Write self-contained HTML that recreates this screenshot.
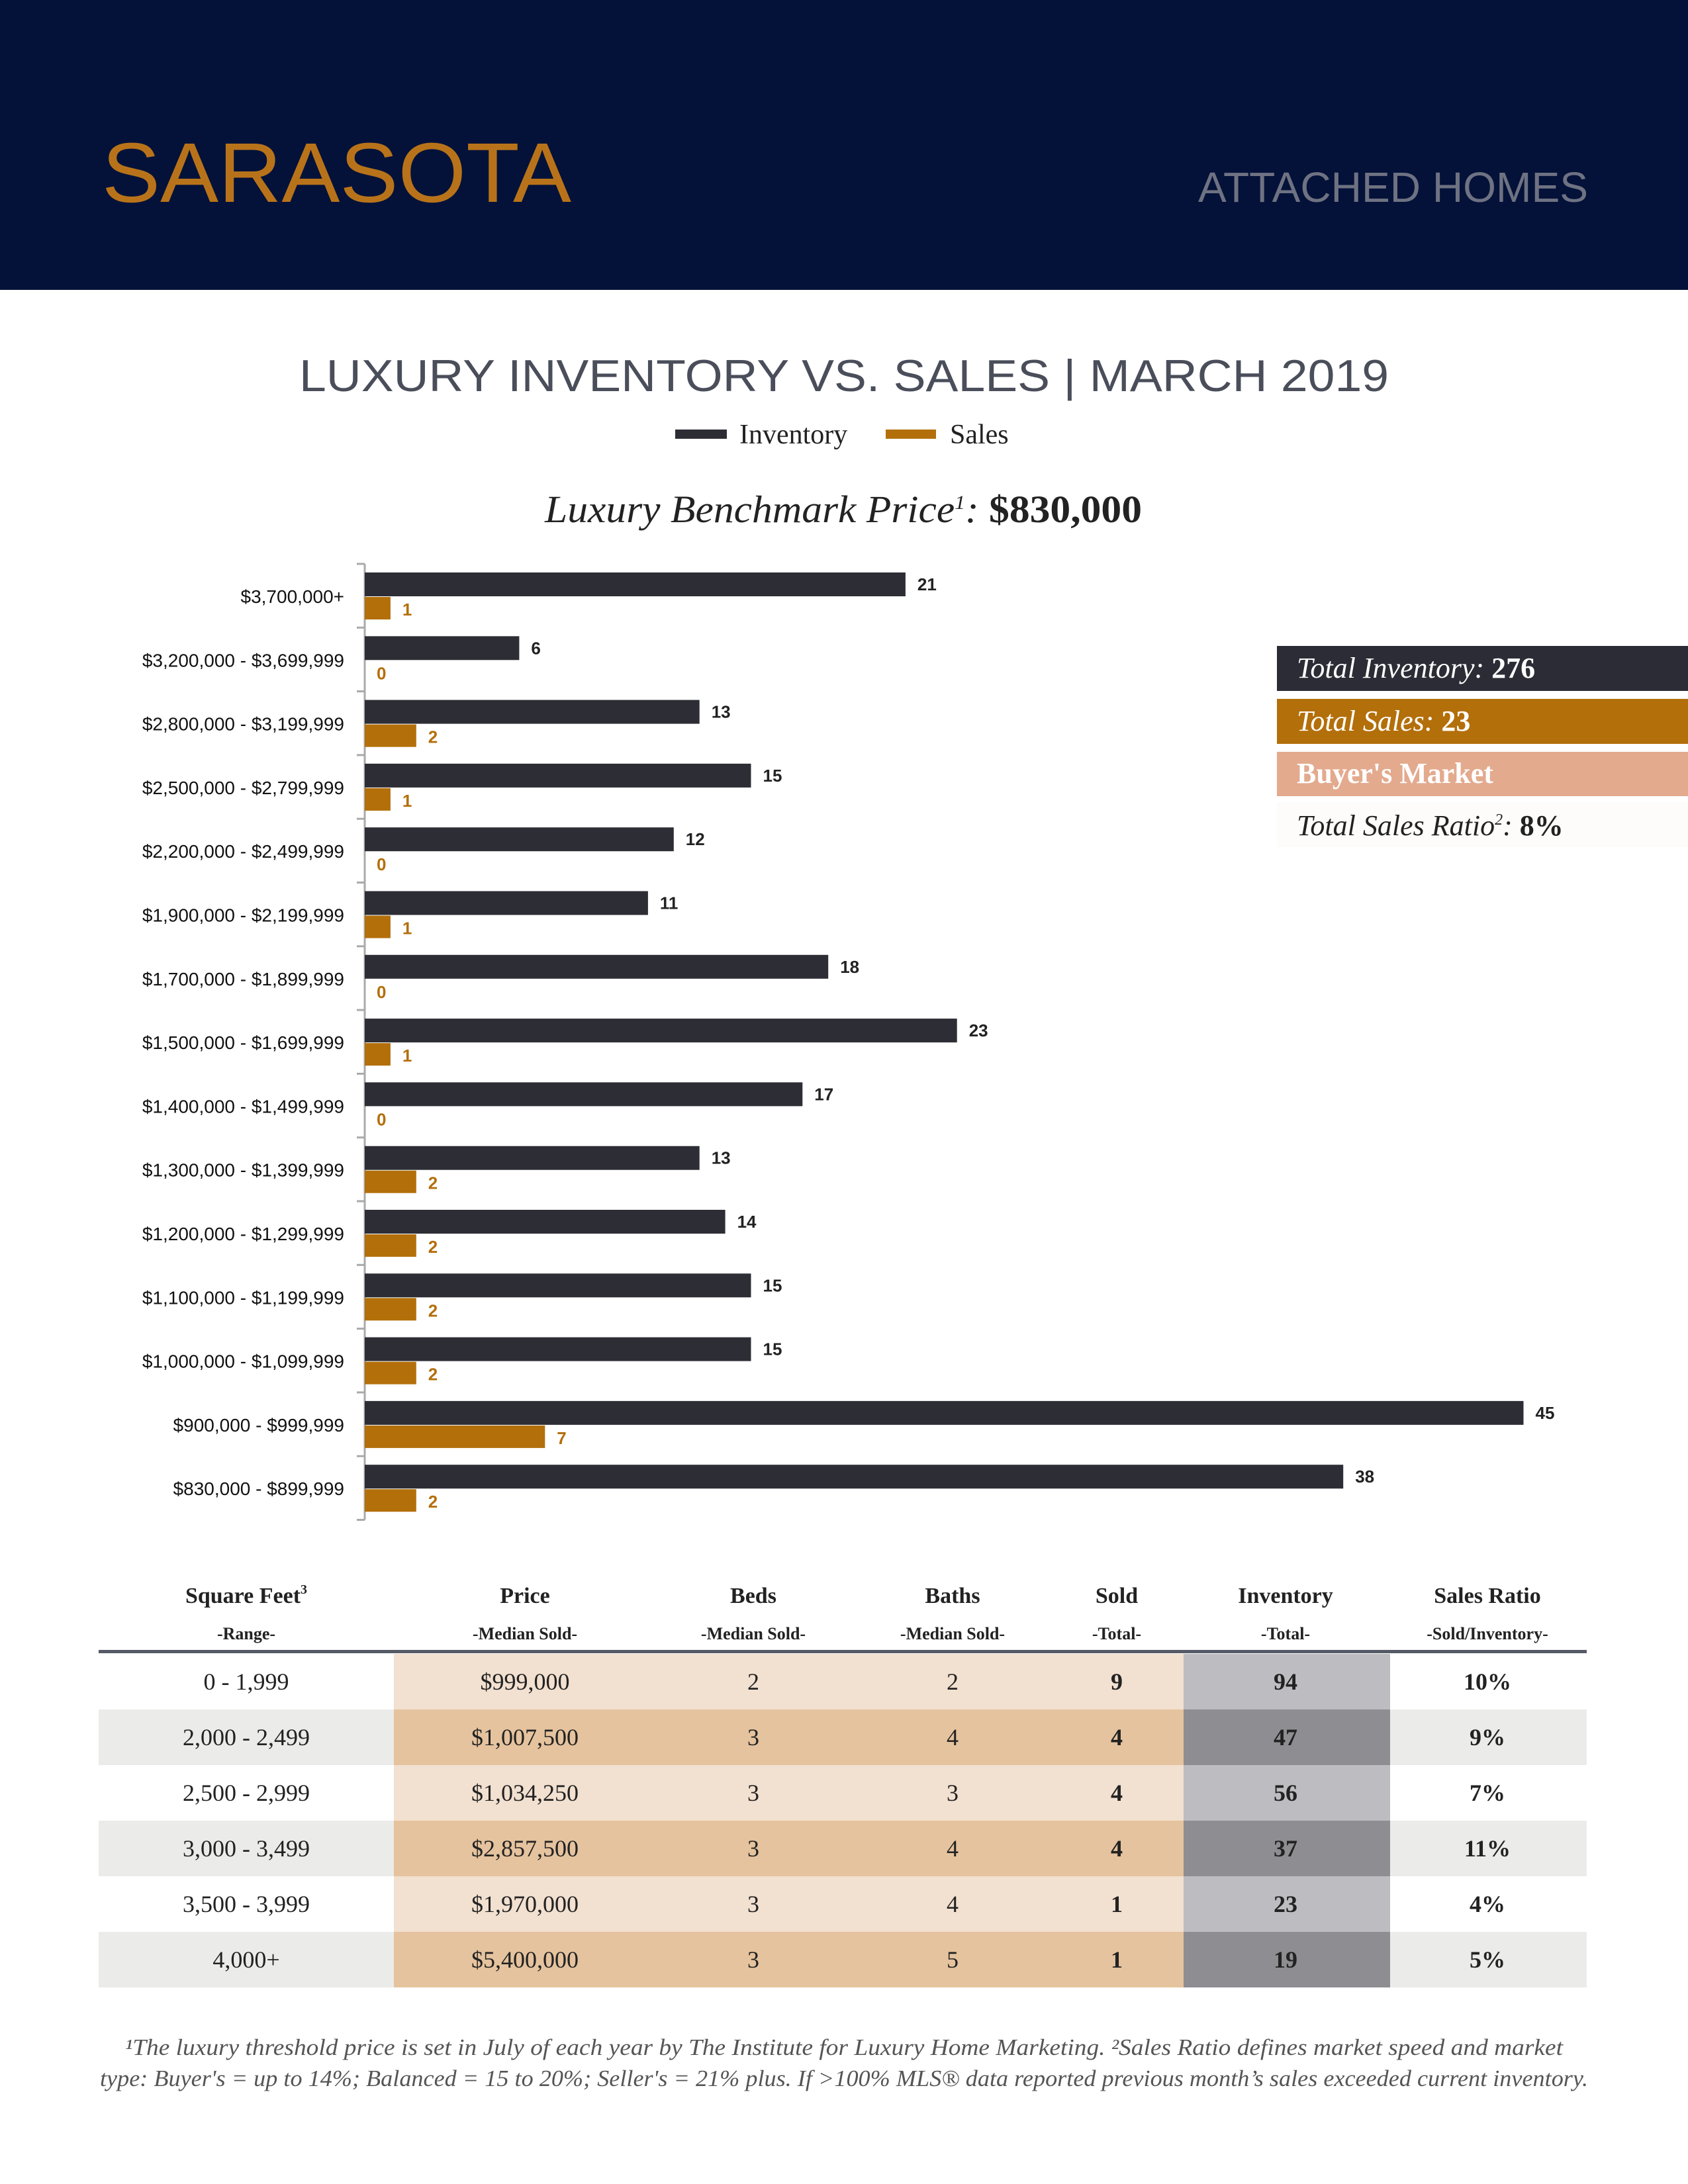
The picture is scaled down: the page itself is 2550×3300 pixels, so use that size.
<!DOCTYPE html>
<html><head><meta charset="utf-8"><style>
html,body{margin:0;padding:0;background:#fff;}
svg{display:block;}
.serif{font-family:"Liberation Serif",serif;}
.sans{font-family:"Liberation Sans",sans-serif;}
</style></head><body>
<svg id="page" width="2550" height="3300" viewBox="0 0 2550 3300" xmlns="http://www.w3.org/2000/svg">
<rect x="0" y="0" width="2550" height="438" fill="#041239"/>
<text x="154" y="305" class="sans" font-size="128" fill="#b8731a" textLength="709" lengthAdjust="spacingAndGlyphs">SARASOTA</text>
<text x="1810" y="305" class="sans" font-size="64" fill="#6e7282" textLength="589" lengthAdjust="spacingAndGlyphs">ATTACHED HOMES</text>
<text x="452" y="591" class="sans" font-size="68" fill="#4a4e5a" textLength="1646" lengthAdjust="spacingAndGlyphs">LUXURY INVENTORY VS. SALES | MARCH 2019</text>
<g>
<rect x="1020" y="649" width="78" height="14" fill="#2d2d35"/>
<text x="1117" y="670" class="serif" font-size="42" fill="#222">Inventory</text>
<rect x="1338" y="649" width="76" height="14" fill="#b36f0a"/>
<text x="1435" y="670" class="serif" font-size="42" fill="#222">Sales</text>
</g>
<text x="823" y="789" class="serif" font-size="58" fill="#222" textLength="902" lengthAdjust="spacingAndGlyphs"><tspan font-style="italic">Luxury Benchmark Price</tspan><tspan font-size="30" dy="-20" font-style="italic">1</tspan><tspan dy="20" font-style="italic">: </tspan><tspan font-weight="bold">$830,000</tspan></text>
<g id="chart"></g>
<g>
<rect x="1929" y="976" width="621" height="68" fill="#2b2c35"/>
<text x="1959" y="1024" class="serif" font-size="44" fill="#fff"><tspan font-style="italic">Total Inventory: </tspan><tspan font-weight="bold">276</tspan></text>
<rect x="1929" y="1056" width="621" height="68" fill="#b36f0a"/>
<text x="1959" y="1104" class="serif" font-size="44" fill="#fff"><tspan font-style="italic">Total Sales: </tspan><tspan font-weight="bold">23</tspan></text>
<rect x="1929" y="1136" width="621" height="67" fill="#e3aa8e"/>
<text x="1959" y="1183" class="serif" font-size="44" font-weight="bold" fill="#fff">Buyer's Market</text>
<rect x="1929" y="1212" width="621" height="68" fill="#fdfcfa"/>
<text x="1959" y="1262" class="serif" font-size="44" fill="#222"><tspan font-style="italic">Total Sales Ratio</tspan><tspan font-size="24" dy="-16" font-style="italic">2</tspan><tspan dy="16" font-style="italic">: </tspan><tspan font-weight="bold">8%</tspan></text>
</g>
<g id="table"></g>
<text x="1275" y="3105" class="serif" font-size="35" font-style="italic" fill="#555" text-anchor="middle" textLength="2172" lengthAdjust="spacingAndGlyphs">¹The luxury threshold price is set in July of each year by The Institute for Luxury Home Marketing. ²Sales Ratio defines market speed and market</text>
<text x="1275" y="3152" class="serif" font-size="35" font-style="italic" fill="#555" text-anchor="middle" textLength="2248" lengthAdjust="spacingAndGlyphs">type: Buyer's = up to 14%; Balanced = 15 to 20%; Seller's = 21% plus. If &gt;100% MLS® data reported previous month’s sales exceeded current inventory.</text>
</svg>
<script>
const categories = ["$3,700,000+","$3,200,000 - $3,699,999","$2,800,000 - $3,199,999","$2,500,000 - $2,799,999","$2,200,000 - $2,499,999","$1,900,000 - $2,199,999","$1,700,000 - $1,899,999","$1,500,000 - $1,699,999","$1,400,000 - $1,499,999","$1,300,000 - $1,399,999","$1,200,000 - $1,299,999","$1,100,000 - $1,199,999","$1,000,000 - $1,099,999","$900,000 - $999,999","$830,000 - $899,999"];
const inventory = [21,6,13,15,12,11,18,23,17,13,14,15,15,45,38];
const sales = [1,0,2,1,0,1,0,1,0,2,2,2,2,7,2];

const tableHead = ["Square Feet","Price","Beds","Baths","Sold","Inventory","Sales Ratio"];
const tableSub = ["-Range-","-Median Sold-","-Median Sold-","-Median Sold-","-Total-","-Total-","-Sold/Inventory-"];
const sqftRanges = ["0 - 1,999","2,000 - 2,499","2,500 - 2,999","3,000 - 3,499","3,500 - 3,999","4,000+"];
const prices = ["$999,000","$1,007,500","$1,034,250","$2,857,500","$1,970,000","$5,400,000"];
const beds = ["2","3","3","3","3","3"];
const baths = ["2","4","3","4","4","5"];
const sold = ["9","4","4","4","1","1"];
const inv = ["94","47","56","37","23","19"];
const ratios = ["10%","9%","7%","11%","4%","5%"];

const NS = "http://www.w3.org/2000/svg";
function mk(parent, tag, attrs, text){
  const e = document.createElementNS(NS, tag);
  for (const k in attrs) e.setAttribute(k, attrs[k]);
  if (text !== undefined) e.textContent = text;
  parent.appendChild(e);
  return e;
}
const x0 = 551, unit = 38.9, rowTop = 852, rowH = 96.3;
const xScale = v => x0 + v * unit;
const yRow = i => rowTop + i * rowH;
const chart = document.getElementById('chart');

const axis = mk(chart, 'line', {x1:x0, y1:rowTop, x2:x0, y2:rowTop + categories.length*rowH, stroke:'#aaa', 'stroke-width':3});


for (let i = 0; i <= categories.length; i++) {
  const t = mk(chart, 'line', {x1:x0-12, y1:yRow(i), x2:x0, y2:yRow(i), stroke:'#aaa', 'stroke-width':3});
  
  
}
categories.forEach((c, i) => {
  const top = yRow(i) + 13;
  const lab = mk(chart, 'text', {x:520, y:top+46, 'text-anchor':'end', 'font-size':28, fill:'#111', 'font-family':'"Liberation Sans",sans-serif'}, c);
  
  
  const b1 = mk(chart, 'rect', {x:x0, y:top, width:xScale(inventory[i]) - x0, height:36, fill:'#2d2d35'});
  
  
  const v1 = mk(chart, 'text', {x:xScale(inventory[i]) + 18, y:top+27, 'font-size':26, 'font-weight':'bold', fill:'#222', 'font-family':'"Liberation Sans",sans-serif'}, inventory[i]);
  
  
  const b2 = mk(chart, 'rect', {x:x0, y:top+37, width:xScale(sales[i]) - x0, height:34, fill:'#b36f0a'});
  
  
  const v2 = mk(chart, 'text', {x:xScale(sales[i]) + 18, y:top+65, 'font-size':26, 'font-weight':'bold', fill:'#b36f0a', 'font-family':'"Liberation Sans",sans-serif'}, sales[i]);
  
  
});

// table
const tbl = document.getElementById('table');
const colCenters = [372,793,1138,1439,1687,1942,2247];
const tLeft = 149, tRight = 2397, priceL = 595, priceR = 1788, invR = 2100;
const r0 = 2499, rh = 84;
const serif = '"Liberation Serif",serif';
tableHead.forEach((h, j) => {
  const t = mk(tbl, 'text', {x:colCenters[j], y:2422, 'text-anchor':'middle', 'font-size':34, 'font-weight':'bold', fill:'#222', 'font-family':serif}, h);
  if (j === 0) { const s = mk(t, 'tspan', {'font-size':20, dy:-14}, '3'); }
  
  
  const s2 = mk(tbl, 'text', {x:colCenters[j], y:2477, 'text-anchor':'middle', 'font-size':26, 'font-weight':'bold', fill:'#222', 'font-family':serif}, tableSub[j]);
  
  
});
sqftRanges.forEach((r, i) => {
  const y = r0 + i * rh, dark = i % 2 === 1;
  const bg = mk(tbl, 'rect', {x:tLeft, y:y, width:tRight - tLeft, height:rh, fill: dark ? '#ebebea' : '#ffffff'});
  
  
  const pb = mk(tbl, 'rect', {x:priceL, y:y, width:priceR - priceL, height:rh, fill: dark ? '#e5c39e' : '#f2e0d0'});
  
  
  const ib = mk(tbl, 'rect', {x:priceR, y:y, width:invR - priceR, height:rh, fill: dark ? '#8e8d92' : '#bdbcc1'});
  
  
  const vals = [r, prices[i], beds[i], baths[i], sold[i], inv[i], ratios[i]];
  vals.forEach((v, j) => {
    const bold = j >= 4;
    const t = mk(tbl, 'text', {x:colCenters[j], y:y+rh/2+12, 'text-anchor':'middle', 'font-size':36, 'font-weight': bold ? 'bold' : 'normal', fill:'#222', 'font-family':serif}, v);
    
    
  });
});
const rule = mk(tbl, 'rect', {x:tLeft, y:2493, width:tRight - tLeft, height:5, fill:'#555a66'});


</script>
</body></html>
